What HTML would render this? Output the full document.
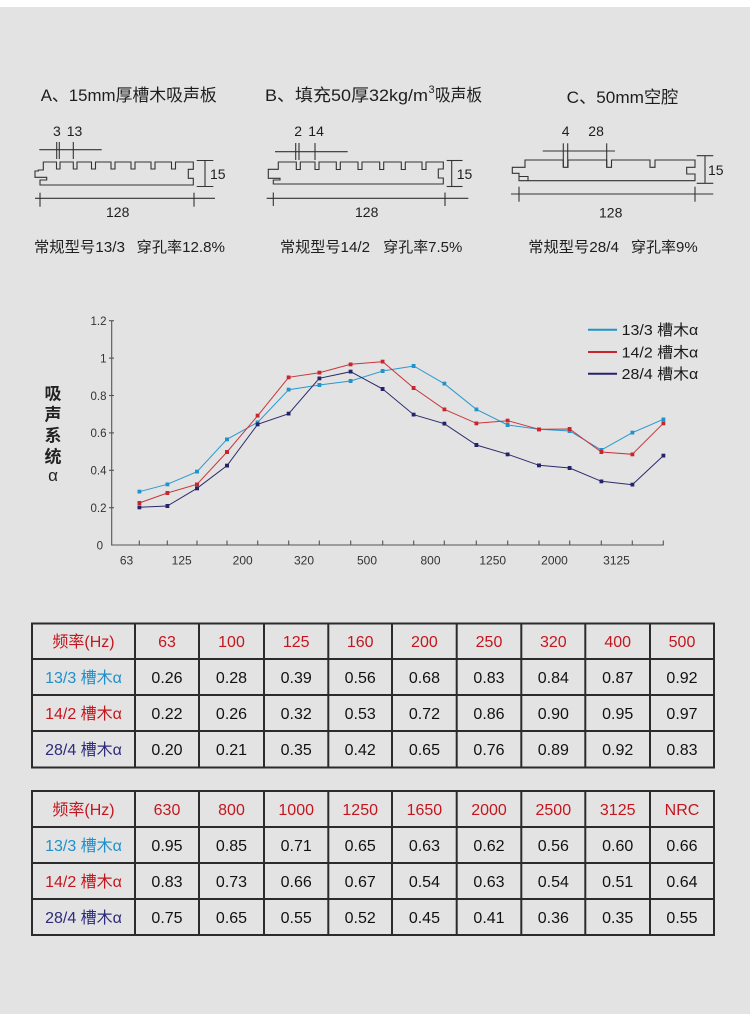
<!DOCTYPE html>
<html><head><meta charset="utf-8">
<style>
html,body{margin:0;padding:0;background:#fff;}
svg{display:block;}
text{font-family:"Liberation Sans","Noto Sans CJK SC",sans-serif;}
</style></head>
<body>
<svg width="750" height="1020" viewBox="0 0 750 1020" xmlns="http://www.w3.org/2000/svg">
<defs>
<marker id="mc" markerWidth="4" markerHeight="4" refX="2" refY="2" markerUnits="userSpaceOnUse"><rect width="4" height="4" fill="#1f93cc"/></marker>
<marker id="mr" markerWidth="4" markerHeight="4" refX="2" refY="2" markerUnits="userSpaceOnUse"><rect width="4" height="4" fill="#c8262e"/></marker>
<marker id="mn" markerWidth="4" markerHeight="4" refX="2" refY="2" markerUnits="userSpaceOnUse"><rect width="4" height="4" fill="#25236a"/></marker>
</defs>
<rect x="0" y="0" width="750" height="1020" fill="#ffffff"/>
<rect x="0" y="7" width="750" height="1007" fill="#e3e3e3"/>

<!-- ===== Diagram A ===== -->
<g fill="#1e1e1e">
<text x="40.7" y="101" font-size="17" textLength="176" lengthAdjust="spacingAndGlyphs">A、15mm厚槽木吸声板</text>
<text x="53" y="136" font-size="14">3</text>
<text x="66.7" y="136" font-size="14">13</text>
<text x="210" y="179" font-size="14">15</text>
<text x="106" y="217" font-size="14">128</text>
<text x="34" y="252" font-size="15" textLength="91" lengthAdjust="spacingAndGlyphs">常规型号13/3</text>
<text x="136.7" y="252" font-size="15" textLength="88.3" lengthAdjust="spacingAndGlyphs">穿孔率12.8%</text>
</g>
<g fill="none" stroke="#333" stroke-width="1.1">
<line x1="39.3" y1="149.7" x2="101.7" y2="149.7"/>
<line x1="56.7" y1="142" x2="56.7" y2="159"/>
<line x1="59.3" y1="142" x2="59.3" y2="159"/>
<line x1="73.3" y1="142" x2="73.3" y2="159"/>
<path d="M43.3,170 V162 H56.5 V169 H60 V162 H73.3 V169 H77 V162 H91.5 V169 H95.5 V162 H111 V169 H115 V162 H131 V169 H135 V162 H151 V169 H155 V162 H171.5 V169 H175.5 V162 H193.3 V169.3 H188.3 V178.3 H193.3 V185 H40 V180 H46.7 V177.3 H35 V171 H38.3 V170 Z"/>
<line x1="205" y1="160.5" x2="205" y2="187"/>
<line x1="196.7" y1="160.5" x2="213.3" y2="160.5"/>
<line x1="196.7" y1="186.5" x2="213.3" y2="186.5"/>
<line x1="35" y1="198.3" x2="215" y2="198.3"/>
<line x1="40" y1="192.7" x2="40" y2="206.7"/>
<line x1="194" y1="192.7" x2="194" y2="206.7"/>
</g>

<!-- ===== Diagram B ===== -->
<g fill="#1e1e1e">
<text x="265" y="101" font-size="17" textLength="163" lengthAdjust="spacingAndGlyphs">B、填充50厚32kg/m</text>
<text x="428.5" y="93" font-size="11">3</text>
<text x="435" y="101" font-size="17" textLength="47" lengthAdjust="spacingAndGlyphs">吸声板</text>
<text x="294.3" y="136" font-size="14">2</text>
<text x="308.3" y="136" font-size="14">14</text>
<text x="456.7" y="179" font-size="14">15</text>
<text x="355" y="217" font-size="14">128</text>
<text x="280" y="252" font-size="15" textLength="90" lengthAdjust="spacingAndGlyphs">常规型号14/2</text>
<text x="383.3" y="252" font-size="15" textLength="79" lengthAdjust="spacingAndGlyphs">穿孔率7.5%</text>
</g>
<g fill="none" stroke="#333" stroke-width="1.1">
<line x1="275" y1="151.7" x2="347.7" y2="151.7"/>
<line x1="295.7" y1="143" x2="295.7" y2="160"/>
<line x1="299" y1="143" x2="299" y2="160"/>
<line x1="315" y1="143" x2="315" y2="160"/>
<path d="M278.3,169.3 V162 H296.3 V169.5 H300.3 V162 H315 V169.5 H319 V162 H336.3 V169.5 H340.3 V162 H358 V169.5 H362 V162 H379.7 V169.5 H383.7 V162 H401.3 V169.5 H405.3 V162 H422 V169.5 H426 V162 H443.3 V169 H438.3 V178 H443.3 V184 H273.3 V180 H280 V178.3 H268.3 V169.3 Z"/>
<line x1="451.7" y1="160.5" x2="451.7" y2="187"/>
<line x1="446.7" y1="160.5" x2="462.5" y2="160.5"/>
<line x1="446.7" y1="186.5" x2="462.5" y2="186.5"/>
<line x1="266.7" y1="198.3" x2="468.3" y2="198.3"/>
<line x1="273.3" y1="192.5" x2="273.3" y2="206"/>
<line x1="445" y1="192.5" x2="445" y2="206"/>
</g>

<!-- ===== Diagram C ===== -->
<g fill="#1e1e1e">
<text x="566.7" y="103" font-size="17" textLength="111.6" lengthAdjust="spacingAndGlyphs">C、50mm空腔</text>
<text x="561.7" y="136" font-size="14">4</text>
<text x="588.3" y="136" font-size="14">28</text>
<text x="708" y="175" font-size="14">15</text>
<text x="599" y="217.5" font-size="14">128</text>
<text x="528.3" y="252" font-size="15" textLength="90.7" lengthAdjust="spacingAndGlyphs">常规型号28/4</text>
<text x="631" y="252" font-size="15" textLength="66.7" lengthAdjust="spacingAndGlyphs">穿孔率9%</text>
</g>
<g fill="none" stroke="#333" stroke-width="1.1">
<line x1="542.7" y1="151" x2="615" y2="151"/>
<line x1="563.3" y1="143.3" x2="563.3" y2="167.3"/>
<line x1="567.7" y1="143.3" x2="567.7" y2="167.3"/>
<line x1="606.7" y1="143.3" x2="606.7" y2="167.3"/>
<path d="M525,167.3 V160 H563.3 V167.3 H568 V160 H606.7 V167.3 H611.5 V160 H650 V167.3 H655 V160 H695 V167.3 H686.7 V174 H695 V180.7 H519 V173.3 H512.3 V167.3 Z"/>
<path d="M519,176.5 H528 V180.7"/>
<line x1="705" y1="155.5" x2="705" y2="183.5"/>
<line x1="696.7" y1="155.7" x2="713.3" y2="155.7"/>
<line x1="696.7" y1="183.3" x2="713.3" y2="183.3"/>
<line x1="511" y1="194" x2="713.3" y2="194"/>
<line x1="519" y1="186.7" x2="519" y2="201.7"/>
<line x1="695" y1="186.7" x2="695" y2="201.7"/>
</g>

<!-- ===== Chart ===== -->
<g stroke="#555" stroke-width="1.1" fill="none">
<line x1="111.7" y1="320.7" x2="111.7" y2="545.5"/>
<line x1="111.2" y1="545" x2="663.8" y2="545"/>
<line x1="109" y1="320.7" x2="114" y2="320.7"/>
<line x1="109" y1="358.1" x2="114" y2="358.1"/>
<line x1="109" y1="395.5" x2="114" y2="395.5"/>
<line x1="109" y1="432.9" x2="114" y2="432.9"/>
<line x1="109" y1="470.3" x2="114" y2="470.3"/>
<line x1="109" y1="507.7" x2="114" y2="507.7"/>
<path d="M139.3,545V540.5 M167.3,545V540.5 M197,545V540.5 M227,545V540.5 M257.7,545V540.5 M288.7,545V540.5 M319.3,545V540.5 M350.7,545V540.5 M382.7,545V540.5 M413.7,545V540.5 M444.3,545V540.5 M476.3,545V540.5 M507.7,545V540.5 M539,545V540.5 M569.7,545V540.5 M601.3,545V540.5 M632.3,545V540.5 M663.3,545V540.5"/>
</g>
<g fill="#333" font-size="11.5" text-anchor="end">
<text x="106.5" y="325">1.2</text>
<text x="106.5" y="362.4">1</text>
<text x="106.5" y="399.8">0.8</text>
<text x="106.5" y="437.2">0.6</text>
<text x="106.5" y="474.6">0.4</text>
<text x="106.5" y="512">0.2</text>
<text x="103" y="549.3">0</text>
</g>
<g fill="#333" font-size="12" text-anchor="middle">
<text x="126.5" y="564.5">63</text>
<text x="181.7" y="564.5">125</text>
<text x="242.7" y="564.5">200</text>
<text x="304" y="564.5">320</text>
<text x="367" y="564.5">500</text>
<text x="430.5" y="564.5">800</text>
<text x="492.7" y="564.5">1250</text>
<text x="554.5" y="564.5">2000</text>
<text x="616.5" y="564.5">3125</text>
</g>
<g fill="#222" font-size="17" font-weight="bold" text-anchor="middle">
<text x="53" y="399.5">吸</text>
<text x="53" y="420.5">声</text>
<text x="53" y="441.5">系</text>
<text x="53" y="462.5">统</text>
<text x="53" y="481" font-weight="normal">α</text>
</g>

<polyline fill="none" stroke="#2a98cf" stroke-width="1" marker-start="url(#mc)" marker-mid="url(#mc)" marker-end="url(#mc)"
points="139.3,491.7 167.3,484.3 197,471.7 227,439.3 257.7,422.3 288.7,389.7 319.3,385 350.7,381 382.7,371 413.7,366 444.3,383.7 476.3,409.3 507.7,425 539,429.3 569.7,431 601.3,450 632.3,432.7 663.3,419.3"/>
<polyline fill="none" stroke="#c9363c" stroke-width="1" marker-start="url(#mr)" marker-mid="url(#mr)" marker-end="url(#mr)"
points="139.3,503 167.3,493 197,484.3 227,452 257.7,415.7 288.7,377.3 319.3,372.7 350.7,364.3 382.7,361.7 413.7,388 444.3,409.3 476.3,423.3 507.7,420.7 539,429.3 569.7,429 601.3,452 632.3,454.3 663.3,423.3"/>
<polyline fill="none" stroke="#2c2a6c" stroke-width="1" marker-start="url(#mn)" marker-mid="url(#mn)" marker-end="url(#mn)"
points="139.3,507.3 167.3,506 197,488.3 227,465.7 257.7,424.3 288.7,413.7 319.3,378.3 350.7,371.7 382.7,389 413.7,414.7 444.3,423.7 476.3,445 507.7,454.3 539,465.3 569.7,468 601.3,481.3 632.3,484.7 663.3,455.7"/>

<!-- legend -->
<line x1="588" y1="329.7" x2="617" y2="329.7" stroke="#1f93cc" stroke-width="2"/>
<line x1="588" y1="352" x2="617" y2="352" stroke="#c8262e" stroke-width="2"/>
<line x1="588" y1="373.7" x2="617" y2="373.7" stroke="#25236a" stroke-width="2"/>
<g fill="#1a1a1a" font-size="15">
<text x="621.7" y="335" textLength="76.6" lengthAdjust="spacingAndGlyphs">13/3 槽木α</text>
<text x="621.7" y="357.4" textLength="76.6" lengthAdjust="spacingAndGlyphs">14/2 槽木α</text>
<text x="621.7" y="379" textLength="76.6" lengthAdjust="spacingAndGlyphs">28/4 槽木α</text>
</g>

<!-- ===== Table 1 ===== -->
<g stroke="#2b2b2b" stroke-width="2" fill="none">
<rect x="32" y="623.5" width="682" height="144"/>
<line x1="32" y1="659" x2="714" y2="659"/>
<line x1="32" y1="695" x2="714" y2="695"/>
<line x1="32" y1="731" x2="714" y2="731"/>
<path d="M135,623.5V767.5 M199,623.5V767.5 M264,623.5V767.5 M328.3,623.5V767.5 M392,623.5V767.5 M456.7,623.5V767.5 M521.3,623.5V767.5 M585.3,623.5V767.5 M650,623.5V767.5"/>
</g>
<g font-size="16" text-anchor="middle">
<g fill="#c4161e">
<text x="83.5" y="647">频率(Hz)</text>
<text x="167" y="647">63</text><text x="231.5" y="647">100</text><text x="296.2" y="647">125</text><text x="360.2" y="647">160</text><text x="424.4" y="647">200</text><text x="489" y="647">250</text><text x="553.3" y="647">320</text><text x="617.7" y="647">400</text><text x="682" y="647">500</text>
</g>
<text x="83.5" y="683" fill="#1e8fcb">13/3 槽木α</text>
<text x="83.5" y="719" fill="#c4161e">14/2 槽木α</text>
<text x="83.5" y="755" fill="#2e2a7c">28/4 槽木α</text>
<g fill="#111">
<text x="167" y="683">0.26</text><text x="231.5" y="683">0.28</text><text x="296.2" y="683">0.39</text><text x="360.2" y="683">0.56</text><text x="424.4" y="683">0.68</text><text x="489" y="683">0.83</text><text x="553.3" y="683">0.84</text><text x="617.7" y="683">0.87</text><text x="682" y="683">0.92</text>
<text x="167" y="719">0.22</text><text x="231.5" y="719">0.26</text><text x="296.2" y="719">0.32</text><text x="360.2" y="719">0.53</text><text x="424.4" y="719">0.72</text><text x="489" y="719">0.86</text><text x="553.3" y="719">0.90</text><text x="617.7" y="719">0.95</text><text x="682" y="719">0.97</text>
<text x="167" y="755">0.20</text><text x="231.5" y="755">0.21</text><text x="296.2" y="755">0.35</text><text x="360.2" y="755">0.42</text><text x="424.4" y="755">0.65</text><text x="489" y="755">0.76</text><text x="553.3" y="755">0.89</text><text x="617.7" y="755">0.92</text><text x="682" y="755">0.83</text>
</g>
</g>

<!-- ===== Table 2 ===== -->
<g stroke="#2b2b2b" stroke-width="2" fill="none">
<rect x="32" y="791" width="682" height="144"/>
<line x1="32" y1="827" x2="714" y2="827"/>
<line x1="32" y1="863" x2="714" y2="863"/>
<line x1="32" y1="899" x2="714" y2="899"/>
<path d="M135,791V935 M199,791V935 M264,791V935 M328.3,791V935 M392,791V935 M456.7,791V935 M521.3,791V935 M585.3,791V935 M650,791V935"/>
</g>
<g font-size="16" text-anchor="middle">
<g fill="#c4161e">
<text x="83.5" y="815">频率(Hz)</text>
<text x="167" y="815">630</text><text x="231.5" y="815">800</text><text x="296.2" y="815">1000</text><text x="360.2" y="815">1250</text><text x="424.4" y="815">1650</text><text x="489" y="815">2000</text><text x="553.3" y="815">2500</text><text x="617.7" y="815">3125</text><text x="682" y="815">NRC</text>
</g>
<text x="83.5" y="851" fill="#1e8fcb">13/3 槽木α</text>
<text x="83.5" y="887" fill="#c4161e">14/2 槽木α</text>
<text x="83.5" y="923" fill="#2e2a7c">28/4 槽木α</text>
<g fill="#111">
<text x="167" y="851">0.95</text><text x="231.5" y="851">0.85</text><text x="296.2" y="851">0.71</text><text x="360.2" y="851">0.65</text><text x="424.4" y="851">0.63</text><text x="489" y="851">0.62</text><text x="553.3" y="851">0.56</text><text x="617.7" y="851">0.60</text><text x="682" y="851">0.66</text>
<text x="167" y="887">0.83</text><text x="231.5" y="887">0.73</text><text x="296.2" y="887">0.66</text><text x="360.2" y="887">0.67</text><text x="424.4" y="887">0.54</text><text x="489" y="887">0.63</text><text x="553.3" y="887">0.54</text><text x="617.7" y="887">0.51</text><text x="682" y="887">0.64</text>
<text x="167" y="923">0.75</text><text x="231.5" y="923">0.65</text><text x="296.2" y="923">0.55</text><text x="360.2" y="923">0.52</text><text x="424.4" y="923">0.45</text><text x="489" y="923">0.41</text><text x="553.3" y="923">0.36</text><text x="617.7" y="923">0.35</text><text x="682" y="923">0.55</text>
</g>
</g>
</svg>
</body></html>
